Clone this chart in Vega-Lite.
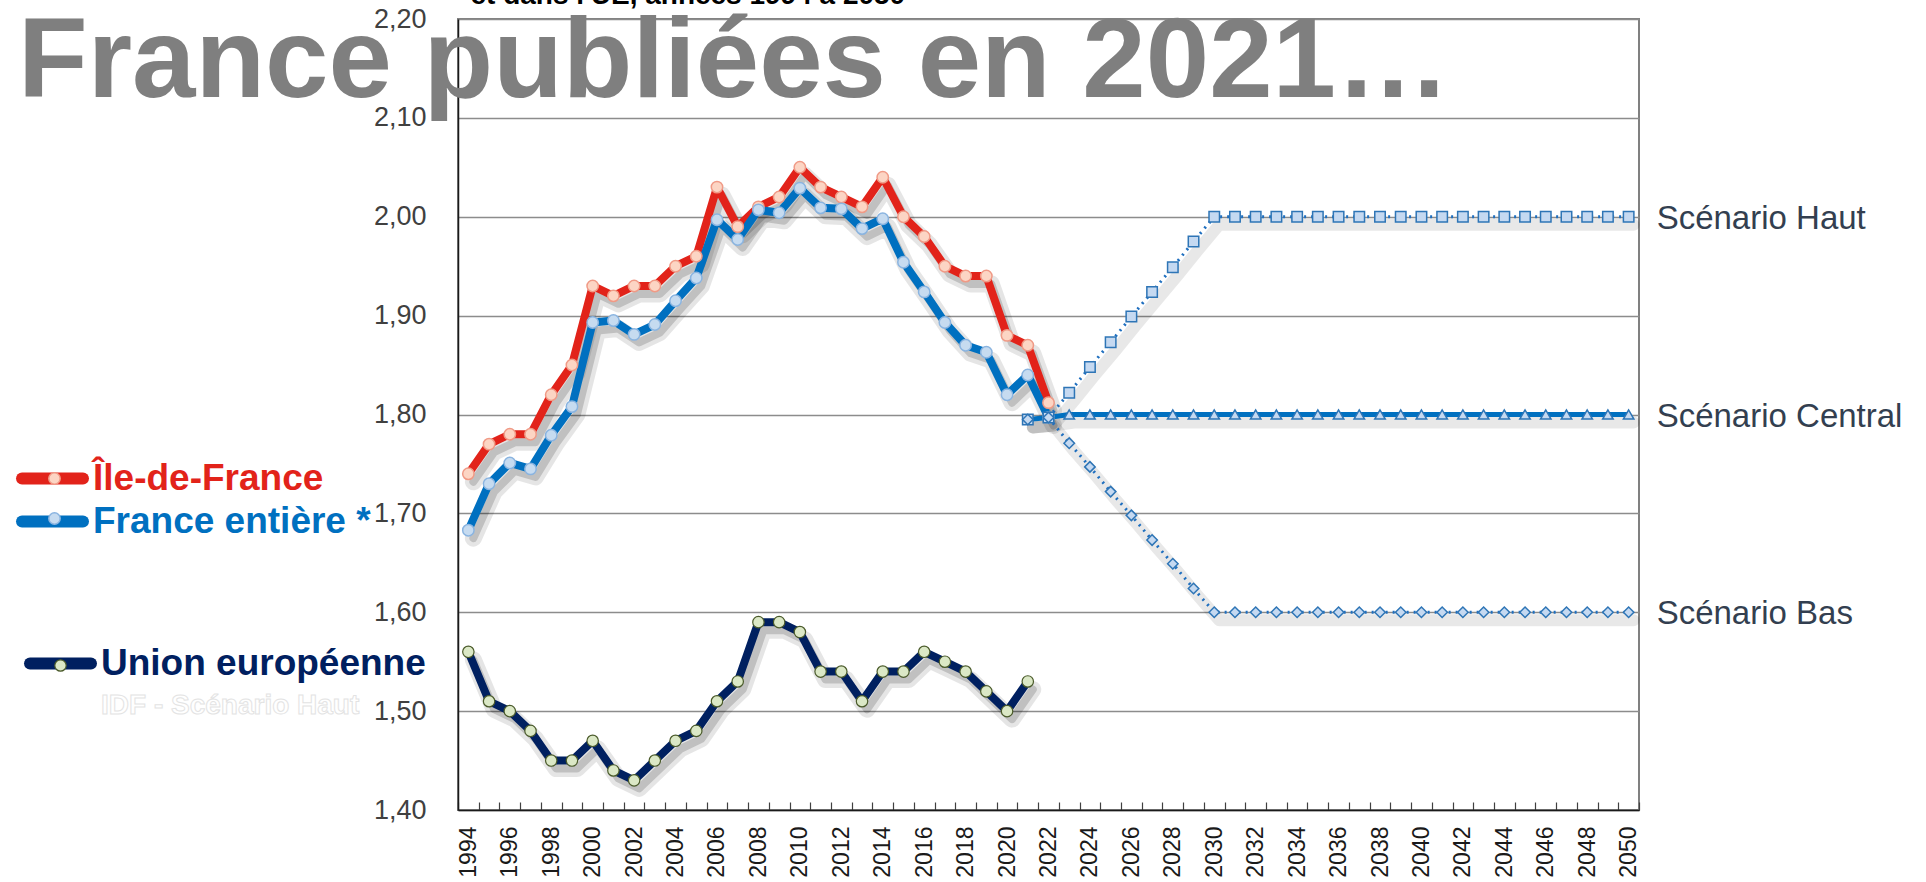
{
  "$schema": "https://vega.github.io/schema/vega-lite/v6.json",
  "width": 1181,
  "height": 791,
  "autosize": {"type": "none"},
  "padding": {"left": 458, "top": 19, "right": 287, "bottom": 72},
  "background": "white",
  "title": {
    "text": "France publiées en 2021…",
    "anchor": "start",
    "frame": "group",
    "font": "Liberation Sans",
    "fontSize": 114,
    "fontWeight": "bold",
    "color": "#7f7f7f",
    "baseline": "alphabetic",
    "offset": -120,
    "dx": -440,
    "dy": 110,
    "zindex": 2
  },
  "config": {
    "font": "Liberation Sans",
    "view": {"stroke": "#808080", "strokeWidth": 2}
  },
  "datasets": {
    "obs": [
      {"year": 1994, "series": "Île-de-France", "value": 1.74},
      {"year": 1995, "series": "Île-de-France", "value": 1.77},
      {"year": 1996, "series": "Île-de-France", "value": 1.78},
      {"year": 1997, "series": "Île-de-France", "value": 1.78},
      {"year": 1998, "series": "Île-de-France", "value": 1.82},
      {"year": 1999, "series": "Île-de-France", "value": 1.85},
      {"year": 2000, "series": "Île-de-France", "value": 1.93},
      {"year": 2001, "series": "Île-de-France", "value": 1.92},
      {"year": 2002, "series": "Île-de-France", "value": 1.93},
      {"year": 2003, "series": "Île-de-France", "value": 1.93},
      {"year": 2004, "series": "Île-de-France", "value": 1.95},
      {"year": 2005, "series": "Île-de-France", "value": 1.96},
      {"year": 2006, "series": "Île-de-France", "value": 2.03},
      {"year": 2007, "series": "Île-de-France", "value": 1.99},
      {"year": 2008, "series": "Île-de-France", "value": 2.01},
      {"year": 2009, "series": "Île-de-France", "value": 2.02},
      {"year": 2010, "series": "Île-de-France", "value": 2.05},
      {"year": 2011, "series": "Île-de-France", "value": 2.03},
      {"year": 2012, "series": "Île-de-France", "value": 2.02},
      {"year": 2013, "series": "Île-de-France", "value": 2.01},
      {"year": 2014, "series": "Île-de-France", "value": 2.04},
      {"year": 2015, "series": "Île-de-France", "value": 2.00},
      {"year": 2016, "series": "Île-de-France", "value": 1.98},
      {"year": 2017, "series": "Île-de-France", "value": 1.95},
      {"year": 2018, "series": "Île-de-France", "value": 1.94},
      {"year": 2019, "series": "Île-de-France", "value": 1.94},
      {"year": 2020, "series": "Île-de-France", "value": 1.88},
      {"year": 2021, "series": "Île-de-France", "value": 1.87},
      {"year": 2022, "series": "Île-de-France", "value": 1.812},
      {"year": 1994, "series": "France entière *", "value": 1.683},
      {"year": 1995, "series": "France entière *", "value": 1.73},
      {"year": 1996, "series": "France entière *", "value": 1.751},
      {"year": 1997, "series": "France entière *", "value": 1.745},
      {"year": 1998, "series": "France entière *", "value": 1.779},
      {"year": 1999, "series": "France entière *", "value": 1.808},
      {"year": 2000, "series": "France entière *", "value": 1.893},
      {"year": 2001, "series": "France entière *", "value": 1.895},
      {"year": 2002, "series": "France entière *", "value": 1.881},
      {"year": 2003, "series": "France entière *", "value": 1.891},
      {"year": 2004, "series": "France entière *", "value": 1.915},
      {"year": 2005, "series": "France entière *", "value": 1.938},
      {"year": 2006, "series": "France entière *", "value": 1.997},
      {"year": 2007, "series": "France entière *", "value": 1.977},
      {"year": 2008, "series": "France entière *", "value": 2.007},
      {"year": 2009, "series": "France entière *", "value": 2.004},
      {"year": 2010, "series": "France entière *", "value": 2.029},
      {"year": 2011, "series": "France entière *", "value": 2.009},
      {"year": 2012, "series": "France entière *", "value": 2.008},
      {"year": 2013, "series": "France entière *", "value": 1.988},
      {"year": 2014, "series": "France entière *", "value": 1.998},
      {"year": 2015, "series": "France entière *", "value": 1.954},
      {"year": 2016, "series": "France entière *", "value": 1.924},
      {"year": 2017, "series": "France entière *", "value": 1.893},
      {"year": 2018, "series": "France entière *", "value": 1.870},
      {"year": 2019, "series": "France entière *", "value": 1.863},
      {"year": 2020, "series": "France entière *", "value": 1.820},
      {"year": 2021, "series": "France entière *", "value": 1.840},
      {"year": 2022, "series": "France entière *", "value": 1.797},
      {"year": 1994, "series": "Union européenne", "value": 1.56},
      {"year": 1995, "series": "Union européenne", "value": 1.51},
      {"year": 1996, "series": "Union européenne", "value": 1.50},
      {"year": 1997, "series": "Union européenne", "value": 1.48},
      {"year": 1998, "series": "Union européenne", "value": 1.45},
      {"year": 1999, "series": "Union européenne", "value": 1.45},
      {"year": 2000, "series": "Union européenne", "value": 1.47},
      {"year": 2001, "series": "Union européenne", "value": 1.44},
      {"year": 2002, "series": "Union européenne", "value": 1.43},
      {"year": 2003, "series": "Union européenne", "value": 1.45},
      {"year": 2004, "series": "Union européenne", "value": 1.47},
      {"year": 2005, "series": "Union européenne", "value": 1.48},
      {"year": 2006, "series": "Union européenne", "value": 1.51},
      {"year": 2007, "series": "Union européenne", "value": 1.53},
      {"year": 2008, "series": "Union européenne", "value": 1.59},
      {"year": 2009, "series": "Union européenne", "value": 1.59},
      {"year": 2010, "series": "Union européenne", "value": 1.58},
      {"year": 2011, "series": "Union européenne", "value": 1.54},
      {"year": 2012, "series": "Union européenne", "value": 1.54},
      {"year": 2013, "series": "Union européenne", "value": 1.51},
      {"year": 2014, "series": "Union européenne", "value": 1.54},
      {"year": 2015, "series": "Union européenne", "value": 1.54},
      {"year": 2016, "series": "Union européenne", "value": 1.56},
      {"year": 2017, "series": "Union européenne", "value": 1.55},
      {"year": 2018, "series": "Union européenne", "value": 1.54},
      {"year": 2019, "series": "Union européenne", "value": 1.52},
      {"year": 2020, "series": "Union européenne", "value": 1.50},
      {"year": 2021, "series": "Union européenne", "value": 1.53}
    ],
    "scen": [
      {"year": 2021, "scenario": "Central", "value": 1.795},
      {"year": 2022, "scenario": "Central", "value": 1.797},
      {"year": 2023, "scenario": "Central", "value": 1.8},
      {"year": 2024, "scenario": "Central", "value": 1.8},
      {"year": 2025, "scenario": "Central", "value": 1.8},
      {"year": 2026, "scenario": "Central", "value": 1.8},
      {"year": 2027, "scenario": "Central", "value": 1.8},
      {"year": 2028, "scenario": "Central", "value": 1.8},
      {"year": 2029, "scenario": "Central", "value": 1.8},
      {"year": 2030, "scenario": "Central", "value": 1.8},
      {"year": 2031, "scenario": "Central", "value": 1.8},
      {"year": 2032, "scenario": "Central", "value": 1.8},
      {"year": 2033, "scenario": "Central", "value": 1.8},
      {"year": 2034, "scenario": "Central", "value": 1.8},
      {"year": 2035, "scenario": "Central", "value": 1.8},
      {"year": 2036, "scenario": "Central", "value": 1.8},
      {"year": 2037, "scenario": "Central", "value": 1.8},
      {"year": 2038, "scenario": "Central", "value": 1.8},
      {"year": 2039, "scenario": "Central", "value": 1.8},
      {"year": 2040, "scenario": "Central", "value": 1.8},
      {"year": 2041, "scenario": "Central", "value": 1.8},
      {"year": 2042, "scenario": "Central", "value": 1.8},
      {"year": 2043, "scenario": "Central", "value": 1.8},
      {"year": 2044, "scenario": "Central", "value": 1.8},
      {"year": 2045, "scenario": "Central", "value": 1.8},
      {"year": 2046, "scenario": "Central", "value": 1.8},
      {"year": 2047, "scenario": "Central", "value": 1.8},
      {"year": 2048, "scenario": "Central", "value": 1.8},
      {"year": 2049, "scenario": "Central", "value": 1.8},
      {"year": 2050, "scenario": "Central", "value": 1.8},
      {"year": 2021, "scenario": "Haut", "value": 1.795},
      {"year": 2022, "scenario": "Haut", "value": 1.797},
      {"year": 2023, "scenario": "Haut", "value": 1.822},
      {"year": 2024, "scenario": "Haut", "value": 1.848},
      {"year": 2025, "scenario": "Haut", "value": 1.873},
      {"year": 2026, "scenario": "Haut", "value": 1.899},
      {"year": 2027, "scenario": "Haut", "value": 1.924},
      {"year": 2028, "scenario": "Haut", "value": 1.949},
      {"year": 2029, "scenario": "Haut", "value": 1.975},
      {"year": 2030, "scenario": "Haut", "value": 2.0},
      {"year": 2031, "scenario": "Haut", "value": 2.0},
      {"year": 2032, "scenario": "Haut", "value": 2.0},
      {"year": 2033, "scenario": "Haut", "value": 2.0},
      {"year": 2034, "scenario": "Haut", "value": 2.0},
      {"year": 2035, "scenario": "Haut", "value": 2.0},
      {"year": 2036, "scenario": "Haut", "value": 2.0},
      {"year": 2037, "scenario": "Haut", "value": 2.0},
      {"year": 2038, "scenario": "Haut", "value": 2.0},
      {"year": 2039, "scenario": "Haut", "value": 2.0},
      {"year": 2040, "scenario": "Haut", "value": 2.0},
      {"year": 2041, "scenario": "Haut", "value": 2.0},
      {"year": 2042, "scenario": "Haut", "value": 2.0},
      {"year": 2043, "scenario": "Haut", "value": 2.0},
      {"year": 2044, "scenario": "Haut", "value": 2.0},
      {"year": 2045, "scenario": "Haut", "value": 2.0},
      {"year": 2046, "scenario": "Haut", "value": 2.0},
      {"year": 2047, "scenario": "Haut", "value": 2.0},
      {"year": 2048, "scenario": "Haut", "value": 2.0},
      {"year": 2049, "scenario": "Haut", "value": 2.0},
      {"year": 2050, "scenario": "Haut", "value": 2.0},
      {"year": 2021, "scenario": "Bas", "value": 1.795},
      {"year": 2022, "scenario": "Bas", "value": 1.797},
      {"year": 2023, "scenario": "Bas", "value": 1.771},
      {"year": 2024, "scenario": "Bas", "value": 1.747},
      {"year": 2025, "scenario": "Bas", "value": 1.722},
      {"year": 2026, "scenario": "Bas", "value": 1.698},
      {"year": 2027, "scenario": "Bas", "value": 1.673},
      {"year": 2028, "scenario": "Bas", "value": 1.649},
      {"year": 2029, "scenario": "Bas", "value": 1.624},
      {"year": 2030, "scenario": "Bas", "value": 1.6},
      {"year": 2031, "scenario": "Bas", "value": 1.6},
      {"year": 2032, "scenario": "Bas", "value": 1.6},
      {"year": 2033, "scenario": "Bas", "value": 1.6},
      {"year": 2034, "scenario": "Bas", "value": 1.6},
      {"year": 2035, "scenario": "Bas", "value": 1.6},
      {"year": 2036, "scenario": "Bas", "value": 1.6},
      {"year": 2037, "scenario": "Bas", "value": 1.6},
      {"year": 2038, "scenario": "Bas", "value": 1.6},
      {"year": 2039, "scenario": "Bas", "value": 1.6},
      {"year": 2040, "scenario": "Bas", "value": 1.6},
      {"year": 2041, "scenario": "Bas", "value": 1.6},
      {"year": 2042, "scenario": "Bas", "value": 1.6},
      {"year": 2043, "scenario": "Bas", "value": 1.6},
      {"year": 2044, "scenario": "Bas", "value": 1.6},
      {"year": 2045, "scenario": "Bas", "value": 1.6},
      {"year": 2046, "scenario": "Bas", "value": 1.6},
      {"year": 2047, "scenario": "Bas", "value": 1.6},
      {"year": 2048, "scenario": "Bas", "value": 1.6},
      {"year": 2049, "scenario": "Bas", "value": 1.6},
      {"year": 2050, "scenario": "Bas", "value": 1.6}
    ],
    "scenlab": [
      {"year": 2050, "value": 2.0, "label": "Scénario Haut"},
      {"year": 2050, "value": 1.8, "label": "Scénario Central"},
      {"year": 2050, "value": 1.6, "label": "Scénario Bas"}
    ],
    "marker": [{"year": 2020}]
  },
  "encoding": {
    "x": {
      "field": "year",
      "type": "ordinal",
      "title": null,
      "scale": {
        "type": "band",
        "paddingInner": 0,
        "paddingOuter": 0,
        "domain": [1994,1995,1996,1997,1998,1999,2000,2001,2002,2003,2004,2005,2006,2007,2008,2009,2010,2011,2012,2013,2014,2015,2016,2017,2018,2019,2020,2021,2022,2023,2024,2025,2026,2027,2028,2029,2030,2031,2032,2033,2034,2035,2036,2037,2038,2039,2040,2041,2042,2043,2044,2045,2046,2047,2048,2049,2050]
      },
      "axis": {
        "labelExpr": "datum.value % 2 === 0 ? datum.label : ''",
        "labelAngle": 270,
        "labelFontSize": 23,
        "labelColor": "#1a1a1a",
        "labelPadding": 24,
        "labelOverlap": false,
        "tickBand": "extent",
        "tickSize": -8,
        "tickColor": "#404040",
        "tickWidth": 1.2,
        "domainColor": "#1a1a1a",
        "domainWidth": 1.5,
        "grid": false
      }
    },
    "y": {
      "field": "value",
      "type": "quantitative",
      "title": "et dans l'UE, années 1994 à 2050",
      "scale": {"domain": [1.4, 2.2], "zero": false, "nice": false},
      "axis": {
        "values": [1.4, 1.5, 1.6, 1.7, 1.8, 1.9, 2.0, 2.1, 2.2],
        "labelExpr": "replace(format(datum.value, '.2f'), '.', ',')",
        "labelFontSize": 27,
        "labelColor": "#404040",
        "labelPadding": 32,
        "ticks": false,
        "tickSize": 0,
        "domainColor": "#1a1a1a",
        "domainWidth": 1.5,
        "grid": true,
        "gridColor": "#8c8c8c",
        "gridWidth": 1.5,
        "titleAngle": 0,
        "titleAlign": "left",
        "titleBaseline": "alphabetic",
        "titleX": 12,
        "titleY": -16,
        "titleFontSize": 28,
        "titleFontWeight": "bold",
        "titleColor": "#000000"
      }
    }
  },
  "layer": [
    {
      "data": {"name": "marker"},
      "mark": {"type": "rule", "color": "#595959", "strokeWidth": 4, "strokeDash": [4, 4]},
      "encoding": {"y": {"datum": 2.205}, "y2": {"datum": 1.4}}
    },
    {
      "data": {"name": "scen"},
      "mark": {"type": "line", "stroke": "#000000", "opacity": 0.09, "strokeWidth": 12, "xOffset": 5, "yOffset": 8, "strokeJoin": "round", "strokeCap": "round"},
      "encoding": {"detail": {"field": "scenario"}}
    },
    {
      "data": {"name": "obs"},
      "mark": {"type": "line", "stroke": "#000000", "opacity": 0.1, "strokeWidth": 17, "xOffset": 5, "yOffset": 8, "strokeJoin": "round", "strokeCap": "round"},
      "encoding": {"detail": {"field": "series"}}
    },
    {
      "data": {"name": "obs"},
      "mark": {"type": "line", "stroke": "#000000", "opacity": 0.16, "strokeWidth": 8, "xOffset": 5, "yOffset": 8, "strokeJoin": "round", "strokeCap": "round"},
      "encoding": {"detail": {"field": "series"}}
    },
    {
      "data": {"name": "scen"},
      "transform": [{"filter": {"field": "scenario", "oneOf": ["Haut", "Bas"]}}],
      "mark": {"type": "line", "stroke": "#1f6fbf", "strokeWidth": 3, "strokeDash": [2, 5]},
      "encoding": {"detail": {"field": "scenario"}}
    },
    {
      "data": {"name": "scen"},
      "transform": [{"filter": {"field": "scenario", "equal": "Central"}}],
      "mark": {"type": "line", "stroke": "#0070c0", "strokeWidth": 5}
    },
    {
      "data": {"name": "obs"},
      "transform": [{"filter": {"field": "series", "oneOf": ["Île-de-France", "France entière *"]}}],
      "mark": {"type": "line", "strokeWidth": 8, "strokeJoin": "round", "strokeCap": "round"},
      "encoding": {
        "stroke": {
          "field": "series",
          "type": "nominal",
          "scale": {"domain": ["Île-de-France", "France entière *"], "range": ["#e2231a", "#0070c0"]},
          "legend": {
            "orient": "none",
            "legendX": -441,
            "legendY": 441,
            "title": null,
            "padding": 0,
            "symbolType": "M-3,0L3,0",
            "symbolSize": 413,
            "symbolStrokeWidth": 12,
            "symbolOffset": 17,
            "labelFontSize": 37,
            "labelFont": "Liberation Sans",
            "labelFontWeight": "bold",
            "labelOffset": 22,
            "labelLimit": 800,
            "rowPadding": -7,
            "encode": {
              "symbols": {"update": {"strokeCap": {"value": "round"}}},
              "labels": {"update": {"fill": [{"test": "datum.label === 'Île-de-France'", "value": "#e2231a"}, {"value": "#0070c0"}]}}
            }
          }
        }
      }
    },
    {
      "data": {"name": "obs"},
      "transform": [{"filter": {"field": "series", "equal": "Union européenne"}}],
      "mark": {"type": "line", "strokeWidth": 8, "strokeJoin": "round", "strokeCap": "round"},
      "encoding": {
        "stroke": {
          "field": "series",
          "type": "nominal",
          "scale": {"domain": ["Union européenne", "IDF - Scénario Haut"], "range": ["#002060", "#ffffff"]},
          "legend": {
            "orient": "none",
            "legendX": -433,
            "legendY": 628,
            "title": null,
            "padding": 0,
            "symbolType": "M-3,0L3,0",
            "symbolSize": 413,
            "symbolStrokeWidth": 12,
            "symbolOffset": 19,
            "labelFontSize": 37,
            "labelFont": "Liberation Sans",
            "labelFontWeight": "bold",
            "labelOffset": 24,
            "labelLimit": 800,
            "rowPadding": -7,
            "encode": {
              "symbols": {"update": {"strokeCap": {"value": "round"}}},
              "labels": {"update": {
                "fill": [{"test": "datum.label === 'Union européenne'", "value": "#002060"}, {"value": "#ffffff"}],
                "stroke": [{"test": "datum.label === 'Union européenne'", "value": null}, {"value": "#e3e3e3"}],
                "strokeWidth": {"value": 1},
                "fontSize": [{"test": "datum.label === 'Union européenne'", "value": 37}, {"value": 28}]
              }}
            }
          }
        }
      }
    },
    {
      "data": {"name": "obs"},
      "transform": [{"filter": {"field": "series", "oneOf": ["Île-de-France", "France entière *"]}}],
      "mark": {"type": "point", "shape": "circle", "filled": true, "size": 130, "strokeWidth": 1.5, "opacity": 1},
      "encoding": {
        "fill": {
          "field": "series",
          "type": "nominal",
          "scale": {"domain": ["Île-de-France", "France entière *"], "range": ["#fcd5c4", "#c6dbf0"]},
          "legend": {
            "orient": "none",
            "legendX": -441,
            "legendY": 441,
            "title": null,
            "padding": 0,
            "symbolType": "circle",
            "symbolSize": 130,
            "symbolOffset": 19,
            "symbolStrokeWidth": 1.5,
            "labelFontSize": 37,
            "labelFont": "Liberation Sans",
            "labelFontWeight": "bold",
            "labelOpacity": 0,
            "labelLimit": 800,
            "rowPadding": 2,
            "encode": {
              "symbols": {"update": {"stroke": [{"test": "datum.label === 'Île-de-France'", "value": "#f09a86"}, {"value": "#8ab4e0"}]}}
            }
          }
        },
        "stroke": {
          "field": "series",
          "type": "nominal",
          "scale": {"domain": ["Île-de-France", "France entière *"], "range": ["#f09a86", "#8ab4e0"]},
          "legend": null
        }
      }
    },
    {
      "data": {"name": "obs"},
      "transform": [{"filter": {"field": "series", "equal": "Union européenne"}}],
      "mark": {"type": "point", "shape": "circle", "filled": true, "size": 130, "strokeWidth": 1.2, "stroke": "#4a5a2a", "opacity": 1},
      "encoding": {
        "fill": {
          "field": "series",
          "type": "nominal",
          "scale": {"domain": ["Union européenne"], "range": ["#dbe8c6"]},
          "legend": {
            "orient": "none",
            "legendX": -433,
            "legendY": 628,
            "title": null,
            "padding": 0,
            "symbolType": "circle",
            "symbolSize": 130,
            "symbolOffset": 17,
            "symbolStrokeWidth": 1.2,
            "symbolStrokeColor": "#4a5a2a",
            "labelFontSize": 37,
            "labelFont": "Liberation Sans",
            "labelFontWeight": "bold",
            "labelOpacity": 0,
            "labelLimit": 800,
            "rowPadding": 4
          }
        }
      }
    },
    {
      "data": {"name": "scen"},
      "transform": [{"filter": "datum.scenario !== 'Central' || datum.year > 2022"}],
      "mark": {"type": "point", "filled": true, "size": 110, "fill": "#c5d9f1", "stroke": "#2e75b6", "strokeWidth": 1.5, "opacity": 1},
      "encoding": {
        "shape": {
          "field": "scenario",
          "type": "nominal",
          "scale": {"domain": ["Haut", "Central", "Bas"], "range": ["square", "triangle-up", "diamond"]},
          "legend": null
        }
      }
    },
    {
      "data": {"name": "scenlab"},
      "mark": {"type": "text", "align": "left", "baseline": "middle", "dx": 28, "dy": 2, "fontSize": 33, "font": "Liberation Sans", "color": "#333f50"},
      "encoding": {"text": {"field": "label"}}
    }
  ],
  "resolve": {
    "scale": {"stroke": "independent", "fill": "independent", "shape": "independent"},
    "legend": {"stroke": "independent", "fill": "independent"}
  }
}
